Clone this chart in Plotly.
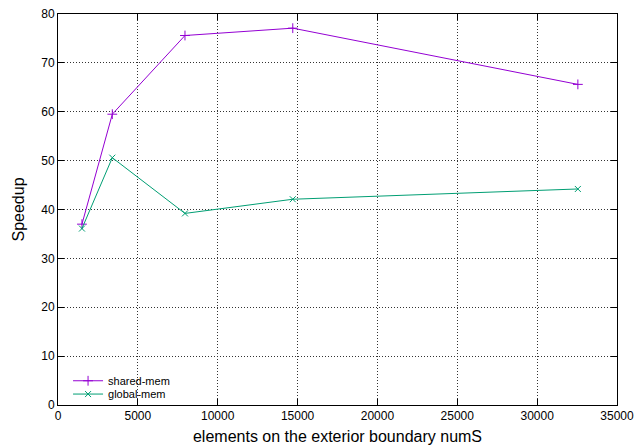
import plotly.graph_objects as go

num_s = [1500, 3400, 7950, 14700, 32550]
shared_mem = [37.0, 59.5, 75.6, 77.1, 65.6]
global_mem = [36.1, 50.6, 39.2, 42.1, 44.2]

x_ticks = [0, 5000, 10000, 15000, 20000, 25000, 30000, 35000]
y_ticks = [0, 10, 20, 30, 40, 50, 60, 70, 80]

FONT = "Liberation Sans, Arial"

fig = go.Figure()
fig.add_trace(go.Scatter(
    x=num_s, y=shared_mem, mode="lines+markers", name="shared-mem", legend="legend",
    showlegend=True,
    line=dict(color="#9400D3", width=1),
    marker=dict(symbol="cross-thin", size=7, line=dict(color="#9400D3", width=1))))
fig.add_trace(go.Scatter(
    x=num_s, y=global_mem, mode="lines+markers", name="global-mem", legend="legend2",
    showlegend=True,
    line=dict(color="#009E73", width=1),
    marker=dict(symbol="x-thin", size=6, line=dict(color="#009E73", width=1))))

axis_common = dict(
    showline=True, linecolor="black", linewidth=1, mirror="ticks",
    ticks="inside", ticklen=6, tickcolor="black", automargin=False,
    showgrid=True, gridcolor="#333333", griddash="1px,2px", gridwidth=1,
    zeroline=False, tickfont=dict(family=FONT, size=12, color="black"),
)

fig.update_xaxes(range=[0, 35000], tickvals=x_ticks, ticktext=[str(v) for v in x_ticks],
                 title=dict(text="elements on the exterior boundary numS",
                            font=dict(family=FONT, size=16, color="black"), standoff=8),
                 **axis_common)
fig.update_yaxes(range=[0, 80], tickvals=y_ticks, ticktext=[str(v) for v in y_ticks],
                 title=dict(text="Speedup",
                            font=dict(family=FONT, size=16, color="black"), standoff=12),
                 **axis_common)

leg_common = dict(xanchor="left", yanchor="middle", bgcolor="rgba(0,0,0,0)",
                  font=dict(family=FONT, size=11, color="black"), itemwidth=30)

fig.update_layout(
    width=636, height=447,
    showlegend=True,
    margin=dict(l=58, r=19, t=14, b=42),
    plot_bgcolor="white", paper_bgcolor="white",
    legend=dict(x=0.018, y=0.062, **leg_common),
    legend2=dict(x=0.018, y=0.028, **leg_common),
)

fig.write_html("out.html")
